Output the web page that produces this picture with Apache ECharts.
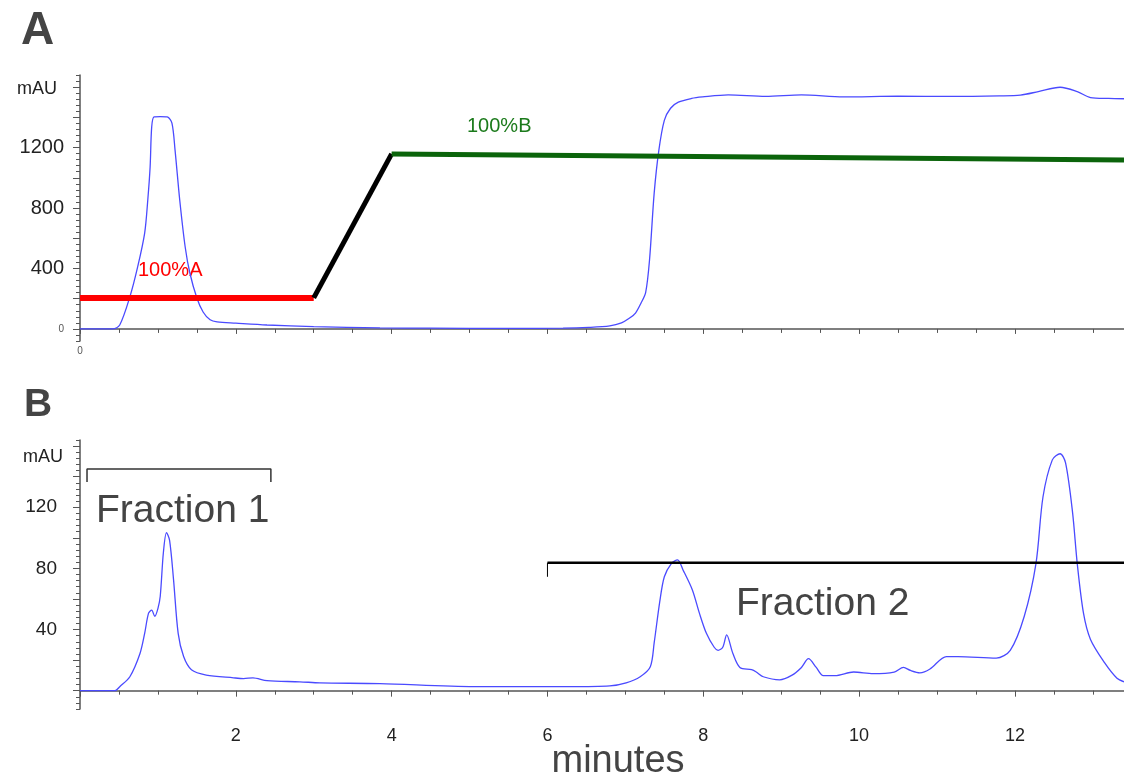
<!DOCTYPE html>
<html>
<head>
<meta charset="utf-8">
<script src="https://cdn.jsdelivr.net/npm/echarts@6/dist/echarts.min.js"></script>
<style>
  html, body { margin: 0; padding: 0; background: #fff; }
  #main { width: 1124px; height: 779px; }
</style>
</head>
<body>
<div id="main"></div>
<script>
// panel A: gradient run (absorbance trace)
var timeA = [0, 0.42, 0.51, 0.64, 0.74, 0.83, 0.87, 0.9, 0.92, 0.95, 1.03, 1.12, 1.18, 1.22, 1.28, 1.35, 1.41, 1.5, 1.58, 1.67, 1.76, 2.0, 2.4, 3.0, 3.85, 4.5, 5.5, 6.2, 6.53, 6.8, 6.95, 7.05, 7.13, 7.2, 7.26, 7.31, 7.37, 7.43, 7.5, 7.58, 7.68, 7.85, 7.99, 8.32, 8.8, 9.26, 9.8, 10.5, 11.2, 11.8, 12.07, 12.3, 12.58, 12.8, 12.97, 13.2, 13.4];
var mauA = [0, 0, 26, 212, 410, 634, 853, 1071, 1335, 1403, 1405, 1403, 1362, 1183, 853, 542, 370, 205, 112, 60, 46, 38, 26, 15, 7, 5, 3, 5, 10, 20, 40, 70, 105, 170, 240, 456, 900, 1183, 1380, 1460, 1500, 1525, 1535, 1549, 1538, 1549, 1535, 1540, 1538, 1542, 1547, 1570, 1599, 1570, 1531, 1525, 1523];

// solvent gradient drawn over panel A
var gradT = [0, 3, 4, 13.4];
var gradV = [205, 205, 1158, 1118];

// panel B: fractionation run
var timeB = [0, 0.45, 0.51, 0.64, 0.77, 0.83, 0.88, 0.92, 0.96, 1.0, 1.03, 1.07, 1.11, 1.15, 1.2, 1.26, 1.33, 1.43, 1.62, 1.97, 2.1, 2.22, 2.4, 2.82, 3.08, 3.85, 5.06, 6.28, 6.8, 7.01, 7.19, 7.32, 7.37, 7.44, 7.5, 7.59, 7.67, 7.74, 7.86, 7.95, 8.04, 8.14, 8.19, 8.25, 8.3, 8.38, 8.47, 8.62, 8.68, 8.77, 8.98, 9.14, 9.26, 9.35, 9.45, 9.54, 9.69, 9.93, 10.18, 10.45, 10.57, 10.66, 10.78, 10.91, 11.12, 11.27, 11.76, 11.94, 12.12, 12.27, 12.36, 12.48, 12.58, 12.65, 12.74, 12.8, 12.88, 12.97, 13.15, 13.31, 13.4];
var mauB = [0, 0, 2.6, 9.1, 24.3, 37.5, 50.7, 52.7, 48.6, 53.7, 61.8, 90.2, 103.4, 98.3, 73, 37.5, 22.3, 13.7, 10.2, 8.4, 7.9, 8.4, 6.5, 5.8, 5.1, 4.6, 2.6, 2.6, 3.1, 5.1, 9.1, 15.6, 31.4, 57.8, 74.5, 83.1, 85.6, 79, 65.9, 50.7, 37.5, 28.4, 26.4, 28.4, 36.5, 24.3, 15.2, 13.7, 12.2, 9.1, 7.1, 10.2, 15.2, 20.9, 15.2, 9.8, 9.8, 12.2, 11.2, 12.2, 15.2, 13.2, 11.7, 14.2, 22.3, 22.3, 21.3, 26.4, 48.7, 83.1, 126.7, 151, 155, 149, 116.5, 83.1, 50.7, 33.5, 18.3, 8.1, 5.8];

// fraction brackets
var frac1T = [0.09, 0.09, 2.45, 2.45];
var frac1V = [136.6, 145, 145, 136.6];
var frac2T = [6.0, 13.4];
var frac2V = [83.7, 83.7];
var frac2DropV = [74.5, 83.7];

// tick labels
var xLabelsB = [2, 4, 6, 8, 10, 12];
var yLabelsA = [0, 400, 800, 1200];
var yLabelsB = [40, 80, 120];

function pairs(xs, ys) {
    return xs.map(function(x, i) { return [x, ys[i]]; });
}

var font = 'Liberation Sans, Arial, sans-serif';
var axisCol = '#555';
var blue = '#4a4aff';

function range(a, b, step) {
    var out = [];
    for (var v = a; v <= b + 1e-9; v += step) out.push(Math.round(v * 100) / 100);
    return out;
}

var myChart = echarts.init(document.getElementById('main'));
var option = {
    animation: false,
    backgroundColor: '#fff',
    grid: [
        { left: 80, top: 75, width: 1044, height: 266, containLabel: false, outerBoundsMode: 'none' },
        { left: 80, top: 440, width: 1044, height: 269, containLabel: false, outerBoundsMode: 'none' }
    ],
    xAxis: [{
        gridIndex: 0,
        type: 'value',
        min: 0,
        max: 13.4,
        interval: 2,
        splitLine: { show: false },
        axisLine: { lineStyle: { color: axisCol, width: 1.5 } },
        axisTick: { length: 5, lineStyle: { color: axisCol } },
        minorTick: { show: true, splitNumber: 4, length: 4, lineStyle: { color: axisCol } },
        axisLabel: {
            margin: 5,
            fontSize: 10,
            color: '#555',
            fontFamily: font,
            formatter: function(v) { return v === 0 ? '0' : ''; }
        }
    }, {
        gridIndex: 1,
        type: 'value',
        min: 0,
        max: 13.4,
        interval: 2,
        splitLine: { show: false },
        axisLine: { lineStyle: { color: axisCol, width: 1.5 } },
        axisTick: { length: 6, lineStyle: { color: axisCol } },
        minorTick: { show: true, splitNumber: 4, length: 4, lineStyle: { color: axisCol } },
        axisLabel: {
            margin: 18,
            fontSize: 18,
            color: '#222',
            fontFamily: font,
            formatter: function(v) { return xLabelsB.indexOf(v) >= 0 ? String(v) : ''; }
        }
    }],
    yAxis: [{
        // panel A, long ticks + labels
        gridIndex: 0,
        type: 'value',
        position: 'left',
        min: -80,
        max: 1680,
        splitLine: { show: false },
        axisLine: { lineStyle: { color: axisCol, width: 1.5 } },
        axisTick: { length: 7, customValues: range(0, 1600, 200), lineStyle: { color: axisCol } },
        axisLabel: {
            customValues: yLabelsA,
            margin: 16,
            fontSize: 20,
            color: '#222',
            fontFamily: font,
            formatter: function(v) { return v === 0 ? '{s|0}' : String(v); },
            rich: { s: { fontSize: 10, color: '#555', fontFamily: font } }
        }
    }, {
        // panel A, short ticks
        gridIndex: 0,
        type: 'value',
        position: 'left',
        min: -80,
        max: 1680,
        interval: 40,
        splitLine: { show: false },
        axisLine: { show: false },
        axisTick: { length: 4, lineStyle: { color: axisCol } },
        axisLabel: { show: false }
    }, {
        // panel B, long ticks + labels
        gridIndex: 1,
        type: 'value',
        position: 'left',
        min: -12,
        max: 164,
        splitLine: { show: false },
        axisLine: { lineStyle: { color: axisCol, width: 1.5 } },
        axisTick: { length: 7, customValues: range(0, 160, 20), lineStyle: { color: axisCol } },
        axisLabel: {
            customValues: yLabelsB,
            margin: 23,
            fontSize: 19,
            color: '#222',
            fontFamily: font
        }
    }, {
        // panel B, short ticks
        gridIndex: 1,
        type: 'value',
        position: 'left',
        min: -12,
        max: 164,
        interval: 4,
        splitLine: { show: false },
        axisLine: { show: false },
        axisTick: { length: 4, lineStyle: { color: axisCol } },
        axisLabel: { show: false }
    }],
    series: [{
        name: 'A trace',
        type: 'line',
        xAxisIndex: 0,
        yAxisIndex: 0,
        data: pairs(timeA, mauA),
        showSymbol: false,
        smooth: 0.3,
        lineStyle: { color: blue, width: 1.3 },
        z: 2
    }, {
        name: '100%A',
        type: 'line',
        xAxisIndex: 0,
        yAxisIndex: 0,
        data: pairs(gradT.slice(0, 2), gradV.slice(0, 2)),
        showSymbol: false,
        lineStyle: { color: '#ff0000', width: 6, cap: 'butt' },
        z: 3
    }, {
        name: 'ramp',
        type: 'line',
        xAxisIndex: 0,
        yAxisIndex: 0,
        data: pairs(gradT.slice(1, 3), gradV.slice(1, 3)),
        showSymbol: false,
        lineStyle: { color: '#000', width: 5 },
        z: 3
    }, {
        name: '100%B',
        type: 'line',
        xAxisIndex: 0,
        yAxisIndex: 0,
        data: pairs(gradT.slice(2, 4), gradV.slice(2, 4)),
        showSymbol: false,
        lineStyle: { color: '#0b640b', width: 5 },
        z: 3
    }, {
        name: 'B trace',
        type: 'line',
        xAxisIndex: 1,
        yAxisIndex: 2,
        data: pairs(timeB, mauB),
        showSymbol: false,
        smooth: 0.3,
        lineStyle: { color: blue, width: 1.3 },
        z: 2
    }, {
        name: 'Fraction 1',
        type: 'line',
        xAxisIndex: 1,
        yAxisIndex: 2,
        data: pairs(frac1T, frac1V),
        showSymbol: false,
        lineStyle: { color: '#333', width: 1.5 }
    }, {
        name: 'Fraction 2',
        type: 'line',
        xAxisIndex: 1,
        yAxisIndex: 2,
        data: pairs(frac2T, frac2V),
        showSymbol: false,
        lineStyle: { color: '#000', width: 2.5 },
        z: 3
    }, {
        name: 'Fraction 2 start',
        type: 'line',
        xAxisIndex: 1,
        yAxisIndex: 2,
        data: pairs([frac2T[0], frac2T[0]], frac2DropV),
        showSymbol: false,
        lineStyle: { color: '#000', width: 1 }
    }],
    graphic: [
        { type: 'text', left: 21, top: 8, style: { text: 'A', font: 'bold 46px ' + font, fill: '#444' } },
        { type: 'text', left: 24, top: 386, style: { text: 'B', font: 'bold 39px ' + font, fill: '#444' } },
        { type: 'text', x: 57, y: 89, style: { text: 'mAU', font: '18px ' + font, fill: '#222', align: 'right', verticalAlign: 'middle' } },
        { type: 'text', x: 63, y: 457, style: { text: 'mAU', font: '18px ' + font, fill: '#222', align: 'right', verticalAlign: 'middle' } },
        { type: 'text', x: 138, y: 270, style: { text: '100%A', font: '20px ' + font, fill: '#ff0000', verticalAlign: 'middle' } },
        { type: 'text', x: 467, y: 126, style: { text: '100%B', font: '20px ' + font, fill: '#1b7a1b', verticalAlign: 'middle' } },
        { type: 'text', x: 96, y: 511, style: { text: 'Fraction 1', font: '39px ' + font, fill: '#444', verticalAlign: 'middle' } },
        { type: 'text', x: 736, y: 604, style: { text: 'Fraction 2', font: '39px ' + font, fill: '#444', verticalAlign: 'middle' } },
        { type: 'text', x: 618, y: 762, style: { text: 'minutes', font: '38px ' + font, fill: '#444', align: 'center', verticalAlign: 'middle' } }
    ]
};
myChart.setOption(option);
</script>
</body>
</html>
